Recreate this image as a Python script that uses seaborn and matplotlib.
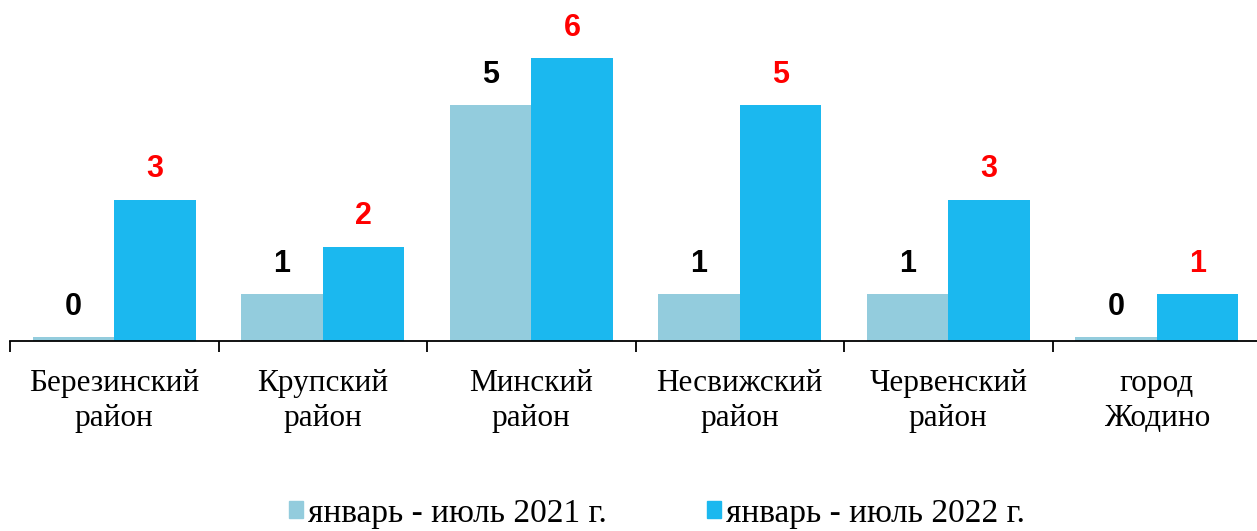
import numpy as np
import pandas as pd
import matplotlib
matplotlib.use('Agg')
import matplotlib.pyplot as plt
import seaborn as sns
from matplotlib.patches import Patch

districts = ['Березинский\nрайон', 'Крупский\nрайон', 'Минский\nрайон',
             'Несвижский\nрайон', 'Червенский\nрайон', 'город\nЖодино']
series = ['январь - июль 2021 г.', 'январь - июль 2022 г.']
values_2021 = [0, 1, 5, 1, 1, 0]
values_2022 = [3, 2, 6, 5, 3, 1]
colors = ['#93CCDD', '#1BB8EF']
label_colors = ['black', '#FF0000']

df = pd.DataFrame({
    'district': districts * 2,
    'period': [series[0]] * 6 + [series[1]] * 6,
    'value': values_2021 + values_2022,
})
# zero bars are drawn as a thin strip, like in the original
df['shown'] = np.where(df['value'] == 0, 0.08, df['value'])

sns.set_style('white')
plt.rcParams['font.family'] = ['Liberation Serif', 'DejaVu Serif']
plt.rcParams['text.color'] = 'black'
plt.rcParams['xtick.color'] = 'black'
plt.rcParams['xtick.labelcolor'] = 'black'

fig = plt.figure(figsize=(12.57, 5.31), dpi=100)
ax = fig.add_axes([10 / 1257, 190 / 531, 1251 / 1257, 330 / 531])

sns.barplot(data=df, x='district', y='shown', hue='period', palette=colors,
            width=0.78, saturation=1, linewidth=0, ax=ax, legend=False)

for i, cont in enumerate(ax.containers):
    vals = df.loc[df['period'] == series[i], 'value'].tolist()
    ax.bar_label(cont, labels=[str(v) for v in vals], padding=11,
                 fontsize=22, fontweight='heavy', color=label_colors[i],
                 family='Liberation Sans')

ax.set_xlim(-0.5, 5.5)
ax.set_ylim(0, 7)
ax.set_xlabel('')
ax.set_ylabel('')
ax.set_yticks([])
for s in ['left', 'right', 'top']:
    ax.spines[s].set_visible(False)
ax.spines['bottom'].set_color('black')
ax.spines['bottom'].set_linewidth(1.3)

ax.set_xticks(np.arange(-0.5, 6, 1))
ax.set_xticklabels([])
ax.tick_params(axis='x', which='major', bottom=True, direction='out',
               length=8, width=1.3, color='black')
ax.set_xticks(np.arange(6), minor=True)
ax.set_xticklabels(districts, minor=True, fontsize=22.5, linespacing=1.3, color='black')
ax.tick_params(axis='x', which='minor', bottom=True, length=0, pad=20)

handles = [Patch(color=c, label=s) for c, s in zip(colors, series)]
fig.legend(handles=handles, loc='lower center', bbox_to_anchor=(0.523, -0.052), ncol=2,
           frameon=False, fontsize=24, handlelength=0.42, handleheight=0.42,
           handletextpad=0.15, columnspacing=3.0, labelcolor='black')

fig.savefig('out.png', dpi=100)
